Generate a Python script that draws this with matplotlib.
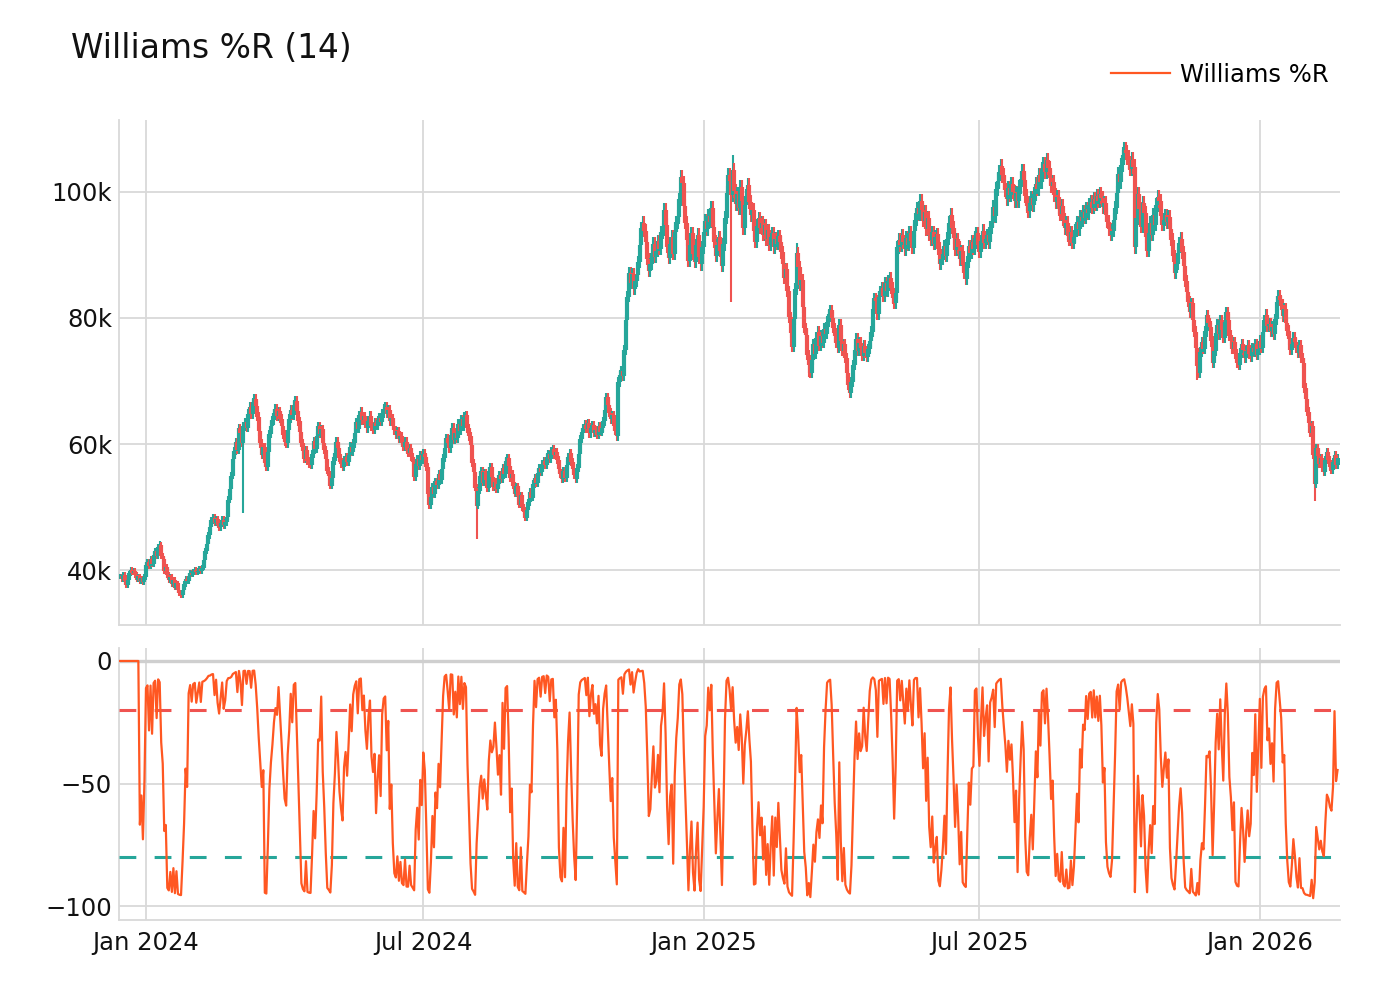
import numpy as np
import pandas as pd
import matplotlib
matplotlib.use("Agg")
import matplotlib.pyplot as plt
import matplotlib.dates as mdates
from matplotlib.ticker import FixedLocator, FixedFormatter

# ---------------- data (prices in thousands) ----------------
start_date = "2023-12-15"
close_k = [
    39.0, 38.6, 39.3, 38.2, 37.6, 38.4, 39.5, 40.1, 39.6, 39.9, 39.2, 38.5, 39.0, 38.3, 38.7, 38.1, 38.9, 40.8, 41.3, 40.6,
    41.8, 40.9, 42.4, 43.1, 42.2, 43.6, 44.0, 42.3, 41.7, 39.8, 40.5, 39.2, 38.4, 38.9, 37.8, 38.5, 37.2, 37.9, 36.8, 36.3,
    36.0, 36.9, 37.8, 38.6, 38.2, 39.1, 39.6, 39.3, 39.8, 40.1, 39.7, 39.9, 40.2, 39.8, 40.4, 41.6, 43.0, 44.2, 45.5, 46.8,
    47.9, 48.3, 47.5, 48.1, 47.2, 46.8, 47.4, 48.0, 47.1, 47.6, 48.5, 51.2, 52.8, 55.0, 57.6, 58.9, 60.3, 59.1, 62.5, 61.8,
    60.2, 62.8, 63.5, 62.6, 64.8, 65.9, 64.7, 66.6, 67.2, 66.1, 64.3, 62.0, 60.1, 58.2, 59.5, 57.0, 56.4, 58.8, 61.6, 62.9,
    63.8, 64.9, 65.6, 64.4, 65.2, 64.0, 62.8, 61.5, 60.4, 60.1, 62.3, 64.0, 65.4, 64.6, 66.2, 66.9, 65.3, 63.6, 61.9, 60.2,
    58.9, 57.7, 59.0, 57.3, 56.8, 56.6, 58.4, 60.5, 59.2, 61.3, 62.8, 61.6, 62.4, 60.1, 59.0, 57.6, 55.8, 54.9, 53.4, 54.6,
    57.3, 58.6, 60.4, 59.3, 57.8, 56.9, 56.4, 57.5, 58.0, 57.2, 58.3, 59.6, 58.7, 60.1, 61.8, 63.5, 62.4, 64.6, 65.1, 63.8,
    64.4, 63.2, 62.5, 63.7, 64.5, 62.8, 62.3, 63.4, 62.9, 63.8, 64.2, 63.5, 64.9, 65.6, 65.9, 64.8, 65.4, 63.6, 64.1, 62.9,
    62.2, 61.5, 62.0, 60.8, 61.3, 60.2, 59.6, 60.4, 59.1, 58.6, 59.3, 58.0, 57.1, 54.8, 56.9, 57.6, 56.5, 58.2, 57.4, 58.5,
    58.0, 56.4, 52.1, 50.3, 51.6, 53.2, 52.0, 54.1, 53.5, 55.2, 54.3, 56.0, 57.8, 59.4, 61.0, 60.2, 59.3, 61.5, 62.6, 60.7,
    61.8, 60.9, 63.2, 62.1, 63.9, 62.8, 64.3, 64.6, 62.5, 61.2, 59.8, 57.0, 55.6, 53.1, 50.2, 52.6, 54.9, 55.8, 53.9, 55.5,
    54.3, 53.0, 55.8, 56.4, 54.7, 53.2, 54.0, 52.8, 53.6, 55.1, 54.4, 56.2, 55.3, 57.3, 57.8, 56.5, 54.6, 55.2, 53.4, 52.1,
    53.3, 51.7, 50.4, 51.9, 50.0, 49.3, 48.3, 49.6, 50.8, 52.4, 51.5, 53.7, 54.6, 53.8, 55.4, 56.2, 55.5, 56.8, 57.3, 56.6,
    57.9, 58.4, 57.6, 58.9, 59.2, 58.3, 58.8, 57.4, 56.0, 55.3, 54.5, 55.8, 54.6, 56.7, 57.9, 58.6, 57.2, 56.0, 55.1, 54.4,
    56.2, 58.5, 60.8, 61.9, 62.5, 63.1, 62.4, 63.3, 61.7, 62.6, 63.0, 61.8, 62.2, 61.4, 62.8, 61.9, 62.5, 63.6, 65.4, 67.4,
    66.2, 65.0, 63.9, 64.6, 62.8, 62.1, 61.2, 69.8, 70.9, 71.6, 70.8, 74.9, 79.6, 83.4, 87.2, 85.5, 86.9, 84.6, 85.8, 86.8,
    88.9, 91.5, 94.2, 95.1, 93.8, 92.0, 89.4, 87.5, 88.6, 90.3, 91.8, 89.7, 90.6, 92.2, 91.0, 93.6, 94.1, 97.2, 94.8, 91.3,
    89.5, 91.8, 92.9, 90.2, 93.7, 95.2, 96.0, 98.8, 102.3, 101.4, 97.8, 95.1, 92.4, 89.1, 91.6, 93.4, 90.2, 88.9, 91.5, 93.2,
    89.6, 88.5, 91.2, 93.6, 95.4, 94.1, 96.2, 95.3, 97.5, 94.4, 92.1, 89.9, 91.5, 92.8, 90.6, 88.2, 91.7, 95.9, 99.8, 102.6,
    101.8, 99.5, 103.4, 100.2, 98.1, 99.6, 97.4, 100.8, 98.6, 94.2, 97.9, 99.3, 101.1, 98.4, 96.3, 97.2, 93.8, 92.1, 94.6, 95.8,
    94.3, 95.1, 93.2, 94.7, 92.5, 93.9, 91.6, 92.8, 93.4, 91.2, 92.6, 91.8, 93.0, 92.1, 90.4, 88.6, 86.3, 87.8, 84.2, 80.1,
    77.6, 75.4, 79.8, 84.6, 90.3, 88.1, 85.2, 86.0, 81.7, 78.4, 77.3, 74.1, 72.6, 71.2, 73.4, 75.8, 74.3, 76.9, 77.8, 75.6,
    77.2, 76.0, 78.3, 77.5, 79.4, 80.6, 81.2, 80.0, 78.4, 77.1, 76.0, 75.2, 78.9, 76.4, 74.8, 75.9, 73.6, 71.2, 69.4, 68.1,
    69.8, 72.5, 74.9, 76.7, 74.8, 76.1, 75.2, 74.0, 75.6, 74.4, 73.8, 75.1, 76.3, 77.8, 81.5, 83.1, 82.7, 80.6, 83.4, 84.2,
    84.8, 83.5, 85.6, 84.2, 85.9, 86.3, 84.7, 83.1, 82.4, 84.0, 91.2, 92.4, 91.5, 93.1, 92.0, 90.9, 92.7, 91.6, 93.5, 92.2,
    91.1, 93.8, 95.6, 97.4, 96.5, 98.6, 97.2, 95.4, 96.8, 94.1, 95.9, 93.2, 92.4, 93.6, 91.8, 92.9, 93.3, 91.0, 88.6, 89.4,
    90.2, 91.4, 89.8, 92.6, 95.1, 96.4, 94.3, 92.7, 90.8, 92.5, 91.2, 89.3, 90.6, 88.4, 87.1, 86.2, 88.9, 91.4, 90.3, 92.1,
    91.0, 92.7, 93.4, 91.6, 90.5, 92.2, 93.8, 91.9, 92.6, 93.1, 92.0, 94.4, 95.3, 97.6, 96.2, 100.4, 101.8, 103.2, 104.1, 102.6,
    101.4, 100.3, 98.8, 100.6, 99.5, 101.2, 100.0, 98.6, 99.9, 98.5, 100.8, 102.1, 103.3, 101.9, 99.4, 97.8, 97.0, 98.3, 99.1, 97.9,
    99.6, 101.3, 100.4, 102.7, 101.5, 103.6, 104.4, 103.1, 105.0, 103.8, 102.2, 100.9, 101.6, 99.5, 98.4, 99.2, 97.3, 96.5, 97.8, 95.6,
    94.2, 95.1, 93.0, 92.4, 93.6, 91.9, 92.8, 93.9, 95.2, 94.1, 96.0, 95.4, 96.8, 95.9, 97.3, 96.6, 97.9, 98.4, 97.5, 98.9,
    98.1, 99.3, 98.6, 99.7, 99.1, 97.6, 98.2, 96.4, 95.3, 94.1, 93.2, 93.8, 95.6, 97.5, 99.9, 102.8, 101.6, 104.3, 105.9, 106.7,
    106.2, 105.5, 104.6, 103.7, 105.1, 104.0, 91.2, 95.8, 99.6, 97.3, 94.5, 98.2, 96.7, 92.9, 90.6, 93.5, 95.1, 93.2, 96.4, 94.8,
    97.9, 99.2, 98.5, 96.1, 94.8, 95.6, 96.3, 95.2, 96.0, 94.1, 92.4, 89.8, 87.1, 88.6, 90.3, 91.9, 92.6, 90.4, 88.2, 85.9,
    84.1, 82.6, 80.9, 82.3, 79.6, 77.8, 75.2, 72.4, 71.3, 74.6, 76.2, 75.1, 77.9, 80.4, 79.2, 78.6, 76.3, 72.9, 74.8, 77.6,
    78.9, 77.4, 79.6, 78.1, 76.8, 79.3, 80.9, 79.7, 77.2, 76.4, 75.1, 76.2, 74.3, 72.9, 72.6, 74.4, 75.8, 74.9, 73.6, 74.8,
    75.7, 74.3, 73.9, 75.2, 74.6, 75.9, 74.1, 75.0, 76.4, 75.3, 77.8, 79.6, 80.5, 78.7, 79.1, 77.9, 78.6, 77.4, 79.8, 82.6,
    83.5, 82.8, 82.1, 80.3, 81.4, 79.2, 78.0, 76.6, 74.9, 75.8, 76.9, 76.2, 75.3, 74.4, 75.7, 73.6, 72.8, 68.9, 67.2, 65.1,
    63.4, 61.8, 62.9, 58.3, 53.6, 59.4, 58.1, 56.9, 57.8, 56.2, 55.6, 57.4, 58.7, 57.5, 56.3, 55.9, 57.1, 58.2, 56.6, 57.8,
]
# notable long wicks (day index -> price, thousands)
wick_lows = {81: 49.0, 193: 54.6, 234: 45.0, 401: 82.5, 452: 70.6, 479: 67.5, 707: 70.2, 784: 51.0}
wick_highs = {26: 44.6, 368: 103.0, 402: 105.9, 444: 91.9, 608: 105.4, 659: 107.1, 761: 84.0}
wick_frac = 0.011          # typical wick beyond the body

wr_period = 14
overbought = -20
oversold = -80
x_tick_dates = ["2024-01-01", "2024-07-01", "2025-01-01", "2025-07-01", "2026-01-01"]
x_tick_labels = ["Jan 2024", "Jul 2024", "Jan 2025", "Jul 2025", "Jan 2026"]
price_ticks = [40, 60, 80, 100]
price_tick_labels = ["40k", "60k", "80k", "100k"]
wr_ticks = [0, -50, -100]
wr_tick_labels = ["0", "\u221250", "\u2212100"]

# ---------------- build OHLC + Williams %R ----------------
dates = pd.date_range(start_date, periods=len(close_k), freq="D")
close = pd.Series(close_k, index=dates, dtype=float)
open_ = close.shift(1).fillna(close.iloc[0])
body_hi = np.maximum(open_, close)
body_lo = np.minimum(open_, close)
high = body_hi * (1 + wick_frac)
low = body_lo * (1 - wick_frac)
for d, v in wick_lows.items():
    low.iloc[d] = min(low.iloc[d], v)
for d, v in wick_highs.items():
    high.iloc[d] = max(high.iloc[d], v)

hh = high.rolling(wr_period).max()
ll = low.rolling(wr_period).min()
wr = (-100 * (hh - close) / (hh - ll)).fillna(0)

# ---------------- figure ----------------
INC = "#26a69a"
DEC = "#ef5350"
WR_COLOR = "#ff5722"
GRID = "#d9d9d9"
W, H = 1400, 1000

fig = plt.figure(figsize=(14, 10), dpi=100)
ax1 = fig.add_axes([119 / W, 1 - 625 / H, (1340 - 119) / W, (625 - 120) / H])
ax2 = fig.add_axes([119 / W, 1 - 920 / H, (1340 - 119) / W, (920 - 648) / H], sharex=ax1)

x = mdates.date2num(dates)
up = (close >= open_).values
cols = np.where(up, INC, DEC)

# candles drawn in chronological order (wick + body per day)
ax1.vlines(x, low.values, high.values, colors=cols, lw=1.5, zorder=3)
ax1.vlines(x, body_lo.values, body_hi.values, colors=cols, lw=3.0, zorder=4)

ax2.plot(x, wr.values, color=WR_COLOR, lw=1.6, zorder=4, label="Williams %R")
ax2.axhline(overbought, color=DEC, lw=2.2, dashes=(5.5, 6), zorder=3)
ax2.axhline(oversold, color=INC, lw=2.2, dashes=(5.5, 6), zorder=3)
ax2.axhline(0, color="#cfcfcf", lw=2.4, zorder=1)

x0 = mdates.date2num(pd.Timestamp(start_date))
ax1.set_xlim(x0 - 0.7, x0 + 800.6)
ax1.set_ylim(31.3, 111.4)
ax2.set_ylim(-105.7, 5.3)

tick_x = [mdates.date2num(pd.Timestamp(d)) for d in x_tick_dates]
ax2.xaxis.set_major_locator(FixedLocator(tick_x))
ax2.xaxis.set_major_formatter(FixedFormatter(x_tick_labels))
ax1.set_yticks(price_ticks)
ax1.set_yticklabels(price_tick_labels)
ax2.set_yticks(wr_ticks)
ax2.set_yticklabels(wr_tick_labels)

for ax in (ax1, ax2):
    ax.set_axisbelow(True)
    ax.grid(True, color=GRID, lw=1.3)
    for s in ("top", "right"):
        ax.spines[s].set_visible(False)
    for s in ("left", "bottom"):
        ax.spines[s].set_color(GRID)
        ax.spines[s].set_linewidth(1.3)
    ax.tick_params(length=0, labelsize=17.5, colors="#111111", pad=5)
ax1.tick_params(labelbottom=False)
ax2.tick_params(axis="x", pad=8)

fig.text(71 / W, 1 - 48 / H, "Williams %R (14)", fontsize=23.7, ha="left", va="center", color="#111111")
fig.legend(loc="center right", bbox_to_anchor=(1329 / W, 1 - 75 / H), frameon=False,
           fontsize=17.5, handlelength=2.45, handletextpad=0.42, borderpad=0, borderaxespad=0)

fig.savefig("out.png", dpi=100)
